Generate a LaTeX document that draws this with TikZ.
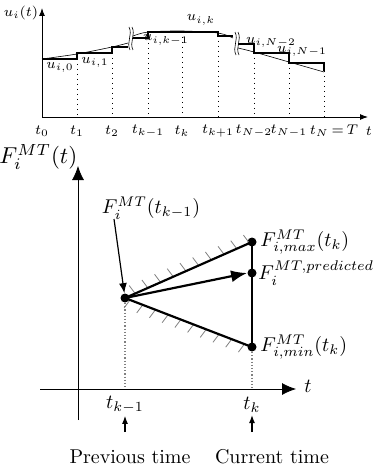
\documentclass[tikz,border=0pt]{standalone}
\usetikzlibrary{calc,arrows.meta}
\begin{document}
\begin{tikzpicture}[x=0.5pt,y=-0.5pt,
  axis/.style={line width=0.5pt,-{Latex[length=4pt,width=3pt]}},
  stepline/.style={line width=1pt},
  thinc/.style={line width=0.3pt},
  dotv/.style={line width=0.5pt,dotted},
  gdot/.style={line width=0.6pt,densely dotted,gray},
  thick2/.style={line width=1.1pt},
  hatch/.style={line width=0.4pt,gray},
  dotpt/.style={circle,fill=black,inner sep=0pt,minimum size=4.5pt},
  lbl/.style={inner sep=1pt},
  tl/.style={font=\scriptsize,inner sep=1pt}]
\useasboundingbox (0,0) rectangle (372,465);
% ---------- top plot ----------
\coordinate (O1) at (42,117);
\coordinate (Y1) at (42,8);
\coordinate (X1) at (368,117);
\draw[axis] (O1) -- (Y1);
\draw[axis] (O1) -- (X1);
\node[tl] (ulab) at (21,13) {$u_i(t)$};
% thin curve
\draw[thinc] plot[smooth] coordinates {(42,59) (77,54) (112,47) (128,43)};
\draw[thinc] plot[smooth] coordinates {(133,36) (148,32) (182,31) (218,33) (233,38)};
\draw[thinc] plot[smooth] coordinates {(238,48) (254,52) (289,62) (324,72)};
% steps
\draw[stepline] (42,59) -- (77,59) -- (77,53) -- (112,53) -- (112,47) -- (128,47);
\draw[stepline] (133,38) -- (148,38) -- (148,32) -- (218,32) -- (218,36) -- (233,36);
\draw[stepline] (238,44) -- (254,44) -- (254,53) -- (289,53) -- (289,63) -- (324,63) -- (324,71);
% break marks
\draw[thinc] (129,27) .. controls (133,35) and (126,42) .. (130,50);
\draw[thinc] (132,27) .. controls (136,35) and (129,42) .. (133,50);
\draw[thinc] (235,32) .. controls (239,40) and (232,47) .. (236,55);
\draw[thinc] (238,32) .. controls (242,40) and (235,47) .. (239,55);
% dotted verticals
\foreach \xx/\yy in {77/59,112/53,148/38,182/32,218/36,254/53,289/63,324/71}
  \draw[dotv] (\xx,\yy) -- (\xx,117);
% tick labels
\node[tl] (t0) at (42,131) {$t_0$};
\node[tl] (t1) at (77,131) {$t_1$};
\node[tl] (t2) at (112,131) {$t_2$};
\node[tl] (tkm) at (148,131) {$t_{k-1}$};
\node[tl] (tk) at (182,131) {$t_k$};
\node[tl] (tkp) at (218,131) {$t_{k+1}$};
\node[tl] (tN2) at (254,131) {$t_{N-2}$};
\node[tl] (tN1) at (289,131) {$t_{N-1}$};
\node[tl] (tN) at (334,131) {$t_N\,{=}\,T$};
\node[tl] (tt) at (369,131) {$t$};
% u labels
\node[tl] (u0) at (60,67) {$u_{i,0}$};
\node[tl] (u1) at (95,62) {$u_{i,1}$};
\node[tl] (ukm) at (166,40) {$u_{i,k-1}$};
\node[tl] (uk) at (201,20) {$u_{i,k}$};
\node[tl] (uN2) at (271,42) {$u_{i,N-2}$};
\node[tl] (uN1) at (302,51) {$u_{i,N-1}$};
% ---------- bottom plot ----------
\coordinate (O2b) at (78,420);
\coordinate (Y2) at (78,166);
\coordinate (X2s) at (40,389);
\coordinate (X2) at (296,389);
\draw[line width=0.4pt,-{Latex[length=7pt,width=6pt]}] (O2b) -- (Y2);
\draw[line width=0.4pt,-{Latex[length=7pt,width=6pt]}] (X2s) -- (X2);
\node[lbl,anchor=east,scale=1.15] (Flab) at (80,157) {$F_i^{MT}(t)$};
\node[lbl] (tlab) at (308,386) {$t$};
\node (P) [dotpt] at (125,298) {};
\node (Mx) [dotpt] at (252,242) {};
\node (Pr) [dotpt] at (252,273) {};
\node (Mn) [dotpt] at (252,347) {};
% hatches
\foreach \f in {0.08,0.18,...,1.0}
  \draw[hatch] ($(P)!\f!(Mx)$) -- ++(-6,-8);
\foreach \f in {0.04,0.14,...,1.0}
  \draw[hatch] ($(P)!\f!(Mn)$) -- ++(-6,8);
% dotted gray verticals
\coordinate (Pa) at (125,389);
\coordinate (Mna) at (252,389);
\draw[gdot] (P) -- (Pa);
\draw[gdot] (Mn) -- (Mna);
% lines
\draw[thick2] (P.center) -- (Mx.center);
\draw[thick2] (P.center) -- (Mn.center);
\draw[thick2] (Mx.center) -- (Mn.center);
\draw[thick2,-{Latex[length=8pt,width=6pt]}] (P.center) -- (Pr.west);
% labels
\node[lbl,anchor=west] (Lmax) at (258,242) {$F_{i,max}^{MT}(t_k)$};
\node[lbl,anchor=west] (Lpr) at (256,273) {$F_i^{MT,predicted}$};
\node[lbl,anchor=west] (Lmin) at (258,347) {$F_{i,min}^{MT}(t_k)$};
\node[lbl] (Lp) at (151,208) {$F_i^{MT}(t_{k-1})$};
\draw[line width=0.6pt,-{Latex[length=5pt,width=4pt]}] (114,219) -- (P);
\node[lbl] (Ltkm) at (125,405) {$t_{k-1}$};
\node[lbl] (Ltk) at (252,405) {$t_k$};
\coordinate (a1) at (125,432);
\coordinate (a2) at (252,432);
\draw[line width=0.6pt,-{Latex[length=4pt,width=3pt]}] (a1) -- (Ltkm);
\draw[line width=0.6pt,-{Latex[length=4pt,width=3pt]}] (a2) -- (Ltk);
\node[lbl] (prev) at (130,457) {Previous time};
\node[lbl] (cur) at (272,457) {Current time};
\end{tikzpicture}
\end{document}
